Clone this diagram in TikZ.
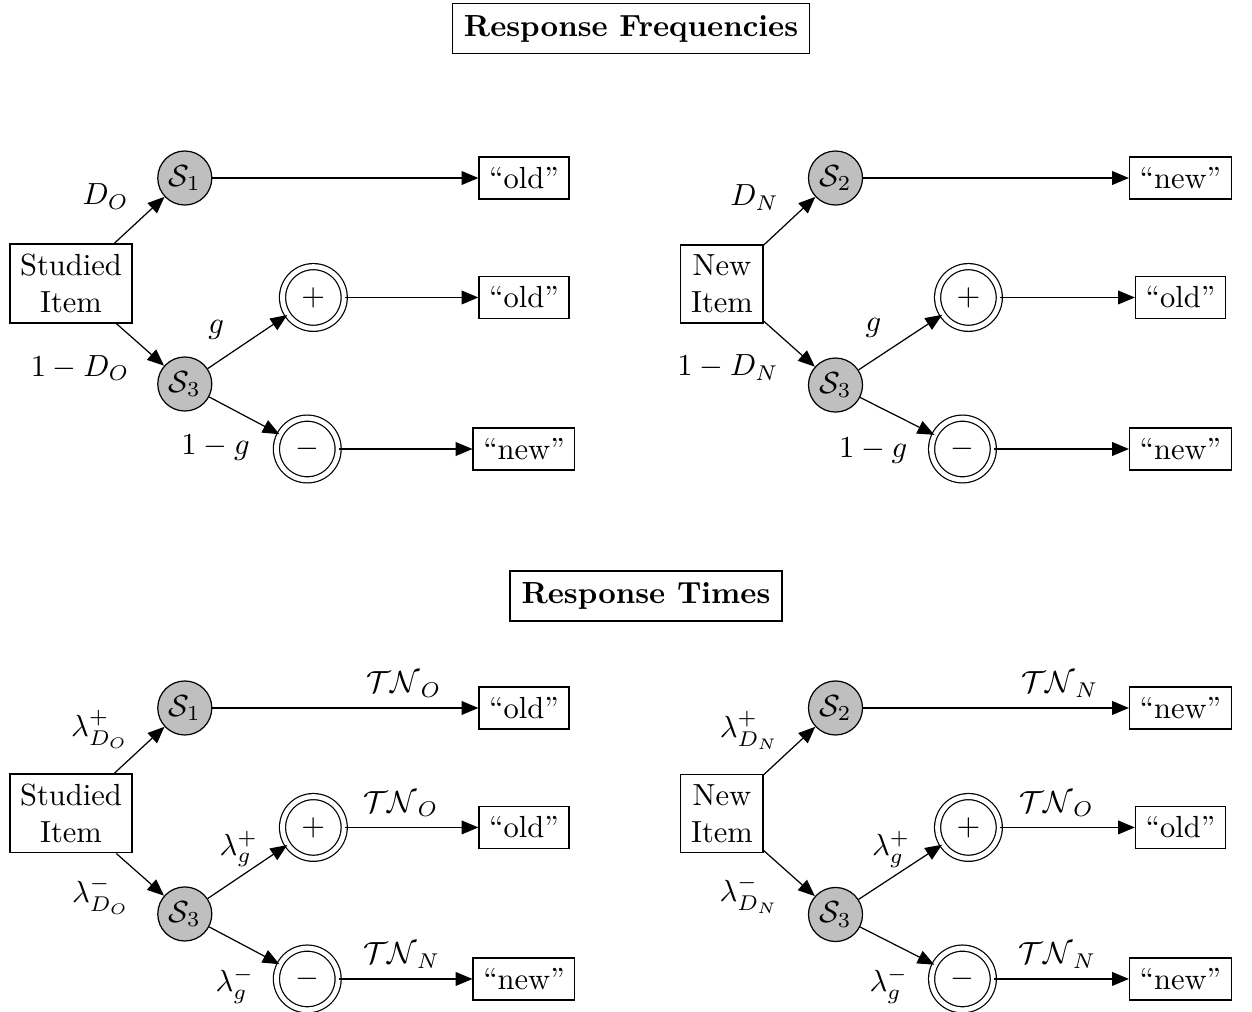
\documentclass[tikz,border=0pt]{standalone}
\usetikzlibrary{arrows.meta}
\tikzset{
  tree/.style={
    >={Triangle[length=5.5pt, width=4.5pt]},
    line width=0.4pt,
  },
  heading/.style={draw, font=\bfseries, inner sep=3.8pt},
  item/.style={draw, align=center, inner sep=3.33pt},
  latent/.style={draw, circle, fill=gray!50, minimum size=17.7pt, inner sep=0pt},
  guess/.style={draw, circle, double, double distance=1.6pt, minimum size=20.2pt, inner sep=0pt},
  resp/.style={draw, inner sep=3.33pt},
  branch/.style={->},
}

\begin{document}
\begin{tikzpicture}[tree]
  \useasboundingbox (0,0) rectangle (14.411,-11.648);

  \node[heading] (freqtitle) at (7.263,-0.328) {Response Frequencies};
  \node[heading] (timetitle) at (7.435,-6.860) {Response Times};

  % frequencies, studied item
  \begin{scope}[shift={(0.817,-3.263)}]
    \node[item] (fo-item) at (0,0) {Studied\\Item};
    \node[latent] (fo-sA) at (1.31,1.214) {$\mathcal{S}_1$};
    \node[latent] (fo-sC) at (1.31,-1.157) {$\mathcal{S}_3$};
    \node[guess] (fo-plus) at (2.79,-0.161) {$+$};
    \node[guess] (fo-minus) at (2.72,-1.905) {$-$};
    \node[resp] (fo-rA) at (5.214,1.214) {``old''};
    \node[resp] (fo-rB) at (5.214,-0.161) {``old''};
    \node[resp] (fo-rC) at (5.214,-1.905) {``new''};
    \draw[branch] (fo-item) -- node[above left] {$D_O$} (fo-sA);
    \draw[branch] (fo-item) -- node[below left] {$1-D_O$} (fo-sC);
    \draw[branch] (fo-sC) -- node[above left, pos=.34] {$g$} (fo-plus);
    \draw[branch] (fo-sC) -- node[below left, pos=.73] {$1-g$} (fo-minus);
    \draw[branch] (fo-sA) -- (fo-rA);
    \draw[branch] (fo-plus) -- (fo-rB);
    \draw[branch] (fo-minus) -- (fo-rC);
  \end{scope}

  % frequencies, new item
  \begin{scope}[shift={(8.310,-3.269)}]
    \node[item] (fn-item) at (0,0) {New\\Item};
    \node[latent] (fn-sA) at (1.307,1.220) {$\mathcal{S}_2$};
    \node[latent] (fn-sC) at (1.307,-1.163) {$\mathcal{S}_3$};
    \node[guess] (fn-plus) at (2.837,-0.155) {$+$};
    \node[guess] (fn-minus) at (2.768,-1.899) {$-$};
    \node[resp] (fn-rA) at (5.277,1.220) {``new''};
    \node[resp] (fn-rB) at (5.277,-0.155) {``old''};
    \node[resp] (fn-rC) at (5.277,-1.899) {``new''};
    \draw[branch] (fn-item) -- node[above left] {$D_N$} (fn-sA);
    \draw[branch] (fn-item) -- node[below left] {$1-D_N$} (fn-sC);
    \draw[branch] (fn-sC) -- node[above left, pos=.40] {$g$} (fn-plus);
    \draw[branch] (fn-sC) -- node[below left, pos=.78] {$1-g$} (fn-minus);
    \draw[branch] (fn-sA) -- (fn-rA);
    \draw[branch] (fn-plus) -- (fn-rB);
    \draw[branch] (fn-minus) -- (fn-rC);
  \end{scope}

  % times, studied item
  \begin{scope}[shift={(0.817,-9.363)}]
    \node[item] (to-item) at (0,0) {Studied\\Item};
    \node[latent] (to-sA) at (1.31,1.214) {$\mathcal{S}_1$};
    \node[latent] (to-sC) at (1.31,-1.157) {$\mathcal{S}_3$};
    \node[guess] (to-plus) at (2.79,-0.161) {$+$};
    \node[guess] (to-minus) at (2.72,-1.905) {$-$};
    \node[resp] (to-rA) at (5.214,1.214) {``old''};
    \node[resp] (to-rB) at (5.214,-0.161) {``old''};
    \node[resp] (to-rC) at (5.214,-1.905) {``new''};
    \draw[branch] (to-item) -- node[above left, yshift=-3pt] {$\lambda^+_{D_O}$} (to-sA);
    \draw[branch] (to-item) -- node[below left, yshift=3pt] {$\lambda^-_{D_O}$} (to-sC);
    \draw[branch] (to-sC) -- node[above, pos=.39] {$\lambda^+_g$} (to-plus);
    \draw[branch] (to-sC) -- node[below left, pos=.79] {$\lambda^-_g$} (to-minus);
    \draw[branch] (to-sA) -- node[above, pos=.72] {$\mathcal{TN}_O$} (to-rA);
    \draw[branch] (to-plus) -- node[above, pos=.42] {$\mathcal{TN}_O$} (to-rB);
    \draw[branch] (to-minus) -- node[above, pos=.47] {$\mathcal{TN}_N$} (to-rC);
  \end{scope}

  % times, new item
  \begin{scope}[shift={(8.310,-9.363)}]
    \node[item] (tn-item) at (0,0) {New\\Item};
    \node[latent] (tn-sA) at (1.307,1.214) {$\mathcal{S}_2$};
    \node[latent] (tn-sC) at (1.307,-1.163) {$\mathcal{S}_3$};
    \node[guess] (tn-plus) at (2.837,-0.161) {$+$};
    \node[guess] (tn-minus) at (2.768,-1.905) {$-$};
    \node[resp] (tn-rA) at (5.277,1.214) {``new''};
    \node[resp] (tn-rB) at (5.277,-0.161) {``old''};
    \node[resp] (tn-rC) at (5.277,-1.905) {``new''};
    \draw[branch] (tn-item) -- node[above left, yshift=-3pt] {$\lambda^+_{D_N}$} (tn-sA);
    \draw[branch] (tn-item) -- node[below left, yshift=3pt] {$\lambda^-_{D_N}$} (tn-sC);
    \draw[branch] (tn-sC) -- node[above, pos=.39] {$\lambda^+_g$} (tn-plus);
    \draw[branch] (tn-sC) -- node[below left, pos=.79] {$\lambda^-_g$} (tn-minus);
    \draw[branch] (tn-sA) -- node[above, pos=.74] {$\mathcal{TN}_N$} (tn-rA);
    \draw[branch] (tn-plus) -- node[above, pos=.42] {$\mathcal{TN}_O$} (tn-rB);
    \draw[branch] (tn-minus) -- node[above, pos=.47] {$\mathcal{TN}_N$} (tn-rC);
  \end{scope}
\end{tikzpicture}
\end{document}
